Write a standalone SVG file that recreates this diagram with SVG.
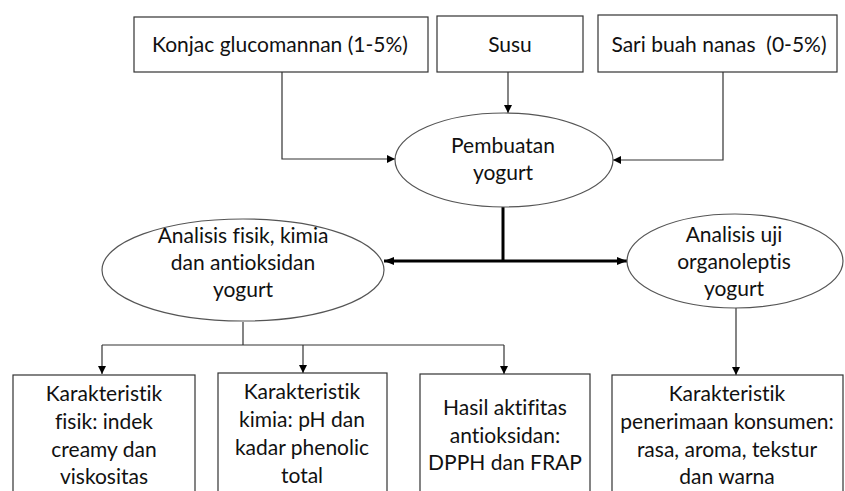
<svg xmlns="http://www.w3.org/2000/svg" width="845" height="491" viewBox="0 0 845 491">
<defs>
<style>
text{font-family:Lato,"Open Sans","Liberation Sans",sans-serif;font-size:21px;fill:#111;text-anchor:middle;font-variant-ligatures:none}
.box{fill:#fff;stroke:#333;stroke-width:1.2}
.ell{fill:#fff;stroke:#555;stroke-width:1.2}
.ln{fill:none;stroke:#333;stroke-width:1.2}
.thick{fill:none;stroke:#000;stroke-width:3}
</style>
<marker id="ah" viewBox="0 0 10 10" refX="10" refY="5" markerWidth="8" markerHeight="8" markerUnits="userSpaceOnUse" orient="auto">
<path d="M0,0 L10,5 L0,10 z" fill="#000"/>
</marker>
<marker id="ahb" viewBox="0 0 10 10" refX="10" refY="5" markerWidth="10" markerHeight="10" markerUnits="userSpaceOnUse" orient="auto-start-reverse">
<path d="M0,1 L10,5 L0,9 z" fill="#000"/>
</marker>
</defs>
<rect width="845" height="491" fill="#fff"/>
<g id="connectors">
<path class="ln" d="M282,72 V159 H395" marker-end="url(#ah)"/>
<path class="ln" d="M508,72 V113" marker-end="url(#ah)"/>
<path class="ln" d="M723,72 V160 H613" marker-end="url(#ah)"/>
<path class="thick" d="M503,207 V261"/>
<path class="thick" d="M384,261 H627" marker-start="url(#ahb)" marker-end="url(#ahb)"/>
<path class="ln" d="M243,322 V345"/>
<path class="ln" d="M102,345 H504"/>
<path class="ln" d="M102,345 V374" marker-end="url(#ah)"/>
<path class="ln" d="M303,345 V373" marker-end="url(#ah)"/>
<path class="ln" d="M504,345 V374" marker-end="url(#ah)"/>
<path class="ln" d="M736,308 V375" marker-end="url(#ah)"/>
</g>
<g id="konjac"><rect class="box" x="134" y="17" width="294" height="55"/><text x="280" y="52">Konjac glucomannan (1-5%)</text></g>
<g id="susu"><rect class="box" x="437" y="16" width="146" height="56"/><text x="510" y="52">Susu</text></g>
<g id="nanas"><rect class="box" x="598" y="15" width="239" height="57"/><text x="719" y="52" xml:space="preserve">Sari buah nanas  (0-5%)</text></g>
<g id="pembuatan"><ellipse class="ell" cx="504" cy="160" rx="109" ry="47"/><text x="503" y="153">Pembuatan</text><text x="503" y="180">yogurt</text></g>
<g id="analisis-fisik"><ellipse class="ell" cx="243" cy="270" rx="141" ry="51"/><text x="243" y="243">Analisis fisik, kimia</text><text x="243" y="270">dan antioksidan</text><text x="243" y="297">yogurt</text></g>
<g id="analisis-organo"><ellipse class="ell" cx="735" cy="261" rx="108" ry="47"/><text x="734" y="242">Analisis uji</text><text x="734" y="269">organoleptis</text><text x="734" y="296">yogurt</text></g>
<g id="fisik"><rect class="box" x="13" y="375" width="182" height="125"/><text x="104" y="401">Karakteristik</text><text x="104" y="429">fisik: indek</text><text x="104" y="457">creamy dan</text><text x="104" y="484">viskositas</text></g>
<g id="kimia"><rect class="box" x="218" y="373" width="169" height="127"/><text x="302" y="399">Karakteristik</text><text x="302" y="427">kimia: pH dan</text><text x="302" y="455">kadar phenolic</text><text x="302" y="483">total</text></g>
<g id="antioksidan"><rect class="box" x="420" y="374" width="170" height="126"/><text x="505" y="415">Hasil aktifitas</text><text x="505" y="443">antioksidan:</text><text x="505" y="470">DPPH dan FRAP</text></g>
<g id="konsumen"><rect class="box" x="612" y="375" width="231" height="125"/><text x="727" y="401">Karakteristik</text><text x="727" y="429">penerimaan konsumen:</text><text x="727" y="457">rasa, aroma, tekstur</text><text x="727" y="484">dan warna</text></g>
</svg>
